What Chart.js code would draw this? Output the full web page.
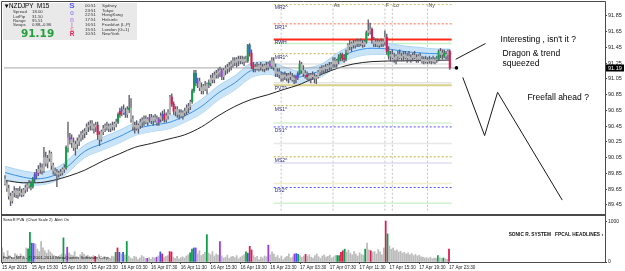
<!DOCTYPE html>
<html><head><meta charset="utf-8">
<script src="https://cdn.jsdelivr.net/npm/chart.js"></script>
<style>
html,body{margin:0;padding:0;background:#fff;width:625px;height:271px;overflow:hidden}
#a{position:absolute;left:0;top:0}
#b{position:absolute;left:0;top:215px}
</style></head><body>
<canvas id="a" width="625" height="215"></canvas>
<canvas id="b" width="625" height="56"></canvas>
<script>
// ---------------- DATA ----------------
const opens = [
89.78,89.72,89.66,89.56,89.50,89.60,89.63,89.58,89.62,89.60,
89.58,89.64,89.67,89.70,89.72,89.68,89.78,89.83,89.86,89.90,
89.92,89.88,90.05,89.98,90.04,90.10,89.95,89.88,89.86,89.84,
89.85,89.86,89.90,89.92,90.18,90.30,90.28,90.24,90.18,90.22,
90.26,90.30,90.34,90.36,90.38,90.44,90.46,90.48,90.42,90.44,
90.46,90.34,90.28,90.38,90.42,90.45,90.44,90.42,90.46,90.44,
90.48,90.50,90.60,90.64,90.66,90.62,90.60,90.66,90.68,90.54,
90.44,90.46,90.42,90.46,90.50,90.52,90.54,90.50,90.54,90.56,
90.52,90.56,90.54,90.50,90.54,90.58,90.60,90.54,90.58,90.62,
90.82,90.73,90.64,90.66,90.60,90.62,90.58,90.62,90.64,90.68,
90.70,90.76,90.90,91.12,91.00,91.02,90.94,90.90,90.96,90.92,
90.98,91.00,91.06,91.04,91.10,91.12,91.14,91.16,91.08,91.16,
91.18,91.20,91.22,91.24,91.28,91.26,91.30,91.28,91.30,91.27,
91.30,91.28,91.48,91.38,91.22,91.18,91.20,91.18,91.22,91.20,
91.18,91.22,91.20,91.24,91.22,91.28,91.20,91.12,91.14,91.10,
91.06,91.10,91.08,91.06,91.10,91.08,91.04,91.06,91.08,91.12,
91.24,91.16,91.12,91.10,91.08,91.06,91.10,91.08,91.06,91.08,
91.14,91.18,91.16,91.20,91.18,91.22,91.20,91.24,91.28,91.24,
91.28,91.32,91.36,91.31,91.30,91.38,91.48,91.46,91.50,91.48,
91.52,91.50,91.52,91.50,91.49,91.52,91.64,91.66,91.68,91.54,
91.50,91.52,91.48,91.52,91.50,91.52,91.58,91.40,91.34,91.36,
91.32,91.30,91.34,91.36,91.32,91.34,91.36,91.32,91.34,91.30,
91.32,91.35,91.32,91.30,91.34,91.30,91.28,91.30,91.27,91.29,
91.28,91.30,91.27,91.29,91.30,91.40,91.36,91.38,91.34,91.36,
91.40];
const highs = [
89.82,89.76,89.70,89.60,89.62,89.68,89.66,89.66,89.68,89.65,
89.66,89.70,89.72,89.76,89.75,89.80,89.86,89.90,89.95,89.98,
89.97,90.18,90.12,90.08,90.14,90.12,89.98,89.92,89.90,89.88,
89.90,89.92,89.96,90.20,90.50,90.36,90.34,90.30,90.26,90.30,
90.34,90.38,90.40,90.42,90.48,90.50,90.52,90.52,90.48,90.50,
90.50,90.38,90.40,90.46,90.48,90.50,90.48,90.48,90.50,90.50,
90.54,90.62,90.68,90.70,90.72,90.68,90.70,90.84,90.80,90.58,
90.50,90.52,90.48,90.54,90.56,90.58,90.58,90.56,90.60,90.60,
90.58,90.60,90.58,90.56,90.62,90.64,90.66,90.62,90.66,90.84,
90.86,90.76,90.70,90.70,90.66,90.66,90.64,90.68,90.72,90.74,
90.78,90.92,91.16,91.16,91.06,91.06,91.00,90.98,91.02,91.00,
91.04,91.10,91.12,91.14,91.16,91.18,91.20,91.18,91.18,91.22,
91.24,91.26,91.28,91.32,91.32,91.32,91.34,91.34,91.34,91.33,
91.34,91.49,91.50,91.42,91.26,91.24,91.26,91.24,91.26,91.24,
91.24,91.26,91.26,91.28,91.32,91.32,91.24,91.18,91.18,91.14,
91.12,91.14,91.12,91.12,91.14,91.12,91.10,91.10,91.14,91.28,
91.26,91.22,91.16,91.14,91.12,91.12,91.14,91.12,91.10,91.16,
91.20,91.22,91.22,91.24,91.24,91.26,91.26,91.32,91.32,91.30,
91.36,91.38,91.38,91.36,91.42,91.50,91.55,91.52,91.54,91.54,
91.56,91.55,91.56,91.54,91.54,91.66,91.80,91.76,91.70,91.58,
91.56,91.56,91.54,91.56,91.55,91.66,91.62,91.46,91.40,91.42,
91.38,91.36,91.40,91.42,91.38,91.40,91.40,91.38,91.40,91.36,
91.38,91.40,91.36,91.36,91.38,91.34,91.33,91.34,91.32,91.34,
91.32,91.34,91.32,91.34,91.42,91.44,91.42,91.42,91.40,91.42,
91.42];
const lows = [
89.70,89.62,89.52,89.44,89.47,89.55,89.54,89.53,89.56,89.55,
89.56,89.60,89.62,89.66,89.64,89.66,89.74,89.78,89.82,89.85,
89.84,89.86,89.94,89.92,90.00,89.90,89.84,89.82,89.68,89.80,
89.82,89.83,89.86,89.90,90.12,90.22,90.18,90.14,90.08,90.16,
90.20,90.26,90.28,90.30,90.34,90.38,90.40,90.40,90.36,90.38,
90.28,90.20,90.26,90.34,90.38,90.40,90.38,90.38,90.40,90.40,
90.44,90.48,90.56,90.58,90.60,90.56,90.56,90.62,90.50,90.40,
90.36,90.40,90.36,90.42,90.44,90.46,90.48,90.46,90.50,90.48,
90.46,90.50,90.46,90.46,90.50,90.52,90.50,90.50,90.54,90.60,
90.70,90.60,90.58,90.56,90.54,90.56,90.54,90.58,90.60,90.62,
90.66,90.74,90.88,90.96,90.94,90.90,90.86,90.86,90.90,90.86,
90.94,90.96,91.00,91.00,91.06,91.06,91.08,91.04,91.04,91.10,
91.12,91.14,91.16,91.20,91.22,91.20,91.22,91.24,91.24,91.22,
91.26,91.26,91.34,91.18,91.14,91.14,91.16,91.15,91.16,91.15,
91.14,91.16,91.16,91.20,91.18,91.16,91.08,91.08,91.06,91.02,
91.02,91.04,91.02,91.00,91.04,91.02,90.99,91.00,91.04,91.10,
91.12,91.08,91.06,91.04,91.02,91.00,91.04,91.00,90.99,91.06,
91.10,91.12,91.12,91.14,91.14,91.16,91.16,91.20,91.20,91.20,
91.24,91.28,91.28,91.26,91.28,91.36,91.42,91.40,91.44,91.44,
91.46,91.46,91.47,91.45,91.46,91.50,91.60,91.62,91.50,91.46,
91.46,91.46,91.45,91.46,91.46,91.48,91.36,91.30,91.28,91.30,
91.26,91.24,91.28,91.30,91.28,91.28,91.30,91.26,91.28,91.26,
91.28,91.30,91.26,91.26,91.28,91.25,91.24,91.25,91.24,91.25,
91.24,91.25,91.24,91.26,91.28,91.32,91.30,91.32,91.30,91.30,
91.17];
const closes = [
89.72,89.66,89.56,89.50,89.60,89.63,89.58,89.62,89.60,89.58,
89.64,89.67,89.70,89.72,89.68,89.78,89.83,89.86,89.90,89.92,
89.88,90.05,89.98,90.04,90.10,89.95,89.88,89.86,89.84,89.85,
89.86,89.90,89.92,90.18,90.30,90.28,90.24,90.18,90.22,90.26,
90.30,90.34,90.36,90.38,90.44,90.46,90.48,90.42,90.44,90.46,
90.34,90.28,90.38,90.42,90.45,90.44,90.42,90.46,90.44,90.48,
90.50,90.60,90.64,90.66,90.62,90.60,90.66,90.68,90.54,90.44,
90.46,90.42,90.46,90.50,90.52,90.54,90.50,90.54,90.56,90.52,
90.56,90.54,90.50,90.54,90.58,90.60,90.54,90.58,90.62,90.82,
90.73,90.64,90.66,90.60,90.62,90.58,90.62,90.64,90.68,90.70,
90.76,90.90,91.12,91.00,91.02,90.94,90.90,90.96,90.92,90.98,
91.00,91.06,91.04,91.10,91.12,91.14,91.16,91.08,91.16,91.18,
91.20,91.22,91.24,91.28,91.26,91.30,91.28,91.30,91.27,91.30,
91.28,91.48,91.38,91.22,91.18,91.20,91.18,91.22,91.20,91.18,
91.22,91.20,91.24,91.22,91.28,91.20,91.12,91.14,91.10,91.06,
91.10,91.08,91.06,91.10,91.08,91.04,91.06,91.08,91.12,91.24,
91.16,91.12,91.10,91.08,91.06,91.10,91.08,91.06,91.08,91.14,
91.18,91.16,91.20,91.18,91.22,91.20,91.24,91.28,91.24,91.28,
91.32,91.36,91.31,91.30,91.38,91.48,91.46,91.50,91.48,91.52,
91.50,91.52,91.50,91.49,91.52,91.64,91.66,91.68,91.54,91.50,
91.52,91.48,91.52,91.50,91.52,91.58,91.40,91.34,91.36,91.32,
91.30,91.34,91.36,91.32,91.34,91.36,91.32,91.34,91.30,91.32,
91.35,91.32,91.30,91.34,91.30,91.28,91.30,91.27,91.29,91.28,
91.30,91.27,91.29,91.30,91.40,91.36,91.38,91.34,91.36,91.40,
91.19];
const volumes = [
350,230,120,280,160,120,90,210,180,140,
200,150,120,350,325,740,470,460,440,320,
260,510,350,280,220,300,250,200,160,140,
120,160,200,600,200,370,230,180,160,260,
140,120,180,240,200,150,170,140,130,160,
140,120,180,100,80,140,60,120,90,150,
130,240,350,240,200,240,180,510,150,100,
80,140,120,60,100,160,130,90,90,110,
70,120,100,120,150,250,200,110,140,160,
260,250,120,90,140,70,110,130,100,150,
180,230,320,350,350,200,280,160,190,240,
680,220,180,260,150,200,170,510,150,100,
120,170,90,130,140,110,160,80,120,150,
180,250,220,390,300,160,110,140,60,120,
100,150,130,420,180,250,200,120,160,90,
150,60,110,140,200,100,130,200,210,190,
160,120,150,190,140,180,120,100,160,200,
130,90,150,180,120,140,170,100,130,160,
160,160,240,280,320,250,300,220,180,260,
200,150,230,190,170,320,470,300,280,240,
260,200,310,250,180,350,1020,700,400,320,
350,280,300,250,270,220,240,200,230,180,
210,160,190,150,170,130,120,100,110,90,
120,80,100,90,160,110,90,100,80,70,
320];
// PVA colour classes (bar indices)
const greenBars  = [14,15,33,61,67,101,102,110,131,159,180,181,184,195,207,234,237];
const redBars    = [50,62,86,90,91,133,134,163,182,183,198,206,240];
const blueBars   = [16,63,65,85,103,132,158];
const purpleBars = [17,35,78,83,104,117,143,157];

// Dragon (EMA band) and trend line, read at sample bars
const dragonBars = [0,10,17,26,33,43,53,62,70,79,89,97,106,115,124,133,142,151,158,162,171,180,188,198,207,215,224,234,240];
const dragonMid  = [89.86,89.80,89.78,89.82,89.92,90.13,90.23,90.32,90.41,90.46,90.50,90.58,90.70,90.87,91.00,91.16,91.19,91.12,91.07,91.10,91.16,91.31,91.40,91.44,91.43,91.40,91.38,91.37,91.37];
const dragonHigh = [89.94,89.88,89.86,89.90,90.00,90.21,90.31,90.40,90.49,90.54,90.58,90.66,90.79,90.96,91.09,91.25,91.27,91.20,91.15,91.18,91.24,91.39,91.48,91.52,91.50,91.47,91.45,91.43,91.43];
const dragonLow  = [89.78,89.72,89.70,89.74,89.84,90.05,90.15,90.24,90.33,90.38,90.42,90.50,90.61,90.78,90.91,91.07,91.11,91.04,90.99,91.02,91.08,91.23,91.32,91.36,91.36,91.33,91.31,91.31,91.31];
const trendBars  = [0,10,17,26,35,43,53,62,70,79,89,97,106,115,124,133,142,151,158,162,171,180,188,198,215,240];
const trendVals  = [89.76,89.73,89.73,89.76,89.82,89.89,90.01,90.10,90.18,90.23,90.29,90.34,90.44,90.58,90.70,90.79,90.85,90.92,90.97,91.01,91.11,91.19,91.24,91.27,91.28,91.29];

// Pivot levels
const levelNames  = ['MR2^','DR1^','RWH','MR1^','PVT^','MS1^','DS1^','MS2^','DS2^'];
const levelPrices = [91.995,91.75,91.55,91.37,90.97,90.71,90.44,90.06,89.67];
const faintLevels = [91.50,91.24,91.00,90.49,90.23,89.98,89.72,89.47];
const levelFromBar = 145, levelToBar = 241;
const sessionBars  = [149,177,205,209,228];
const sessionNames = ['','As','F','Lo','Ny'];

// Drawn objects (bar index, price)
const bidLineBars   = [-1, 243];
const dotBar        = 243.6;
const calloutBars   = [243.2, 259.3];
const calloutPrices = [91.30, 91.50];
const zigzagBars    = [247, 258.8, 265.8, 300.7];
const zigzagPrices  = [91.07, 90.33, 90.88, 89.51];
const noteTexts  = ["Interesting , isn't it ?", 'Dragon & trend', 'squeezed', 'Freefall ahead ?'];
const noteBars   = [267.4, 268.5, 268.5, 281.9];
const notePrices = [91.55, 91.37, 91.24, 90.81];

// Axes
const priceTicks = [89.45,89.65,89.85,90.05,90.25,90.45,90.65,90.85,91.05,91.25,91.45,91.65,91.85];
const volTicks = [0, 1000];
const timeTickBars = [0,16,32,48,64,80,96,112,128,144,160,176,192,208,224,240];
const timeLabels = ['15 Apr 2015','15 Apr 15:30','15 Apr 19:30','15 Apr 23:30','16 Apr 03:30','16 Apr 07:30','16 Apr 11:30','16 Apr 15:30','16 Apr 19:30','16 Apr 23:30','17 Apr 03:30','17 Apr 07:30','17 Apr 11:30','17 Apr 15:30','17 Apr 19:30','17 Apr 23:30'];

// Info panel
const symbolTitle = 'NZDJPY  M15';
const infoLabels = ['Spread','LotPip','Range','Swaps'];
const infoValues = ['18.00','31.50','95.51','0.88,-0.96'];
const sessionTimes  = ['00:51','23:51','22:51','17:51','16:51','15:51','10:51'];
const sessionCities = ['Sydney','Tokyo','HongKong','Helsinki','Frankfurt (L,P)','London (G+1)','NewYork'];

// ---------------- RENDER ----------------
const FF = '"Liberation Sans", Arial, "DejaVu Sans", sans-serif';
const xMin = -0.54, xMax = 323.76;
const yMin = 89.375, yMax = 91.9985;
const N = closes.length;
const bars = Array.from({length: N}, (_, i) => i);
const lastPrice = closes[N - 1];
const kind = i => greenBars.includes(i) ? 'g' : redBars.includes(i) ? 'r' : blueBars.includes(i) ? 'b' : purpleBars.includes(i) ? 'p' : 'n';
const bodyPal = {n:'#b4b4b4', g:'#10a04a', r:'#e3174f', b:'#3f5cf2', p:'#a33be6'};
const volPal  = {n:'#bcbcbc', g:'#0aa046', r:'#e3174f', b:'#3356f5', p:'#9c35ee'};

const lineDs = (xs, ys, o) => Object.assign({type:'line', data: xs.map((x, k) => ({x, y: ys[k]})), pointRadius:0, borderWidth:1, fill:false, tension:0}, o);

const levelColors = ['#b9ad3c','#ff6a3a','#ff2a1a','#bdb040','#d9d08a','#bdb040','#5050ee','#bdb040','#5050ee'];
const levelDash   = [[2,2],[2,2],[],[2,2],[],[2,2],[2,2],[2,2],[2,2]];
const levelWidth  = [1,1,2,1,2,1,1,1,1];
const faintColors = ['#c6f0c6','#e4e4e4','#e4e4e4','#d2f2d2','#e8e8e8','#dcdcf2','#f2eecc','#d2f2d2'];

const dsA = [];
faintLevels.forEach((p, k) => dsA.push(lineDs([levelFromBar, levelToBar], [p, p], {borderColor: faintColors[k], borderWidth: 1.5, order: 12})));
sessionBars.forEach(b => dsA.push(lineDs([b, b], [yMin, yMax], {borderColor:'#c2c2c2', borderDash:[2,2], order: 12})));
levelPrices.forEach((p, k) => dsA.push(lineDs([levelFromBar, levelToBar], [p, p], {borderColor: levelColors[k], borderDash: levelDash[k], borderWidth: levelWidth[k], order: 11})));
dsA.push(lineDs(dragonBars, dragonHigh, {borderColor:'#a9d3f2', backgroundColor:'rgba(198,227,248,0.95)', fill:'+1', cubicInterpolationMode:'monotone', order: 9}));
dsA.push(lineDs(dragonBars, dragonLow,  {borderColor:'#a9d3f2', cubicInterpolationMode:'monotone', order: 9}));
dsA.push(lineDs(dragonBars, dragonMid,  {borderColor:'#3a90e6', cubicInterpolationMode:'monotone', order: 8}));
dsA.push(lineDs(trendBars, trendVals,   {borderColor:'#222222', cubicInterpolationMode:'monotone', order: 7}));
dsA.push(lineDs(bidLineBars, [lastPrice, lastPrice], {borderColor:'#a8a8a8', order: 6}));
dsA.push({type:'bar', data: bars.map(i => ({x:i, y:[lows[i], highs[i]]})), backgroundColor:'#5c5c6a', barThickness:0.7, grouped:false, borderWidth:0, order: 4});
dsA.push({type:'bar', data: bars.map(i => ({x:i, y:[opens[i], closes[i]]})), backgroundColor: c => bodyPal[kind(c.dataIndex)], barThickness:1.4, minBarLength:1, grouped:false, borderWidth:0, order: 3});
dsA.push(lineDs(calloutBars, calloutPrices, {borderColor:'#1a1a1a', order: 1}));
dsA.push(lineDs(zigzagBars, zigzagPrices, {borderColor:'#1a1a1a', order: 1}));
dsA.push({type:'line', data:[{x: dotBar, y: lastPrice}], showLine:false, pointRadius:1.8, pointBackgroundColor:'#000', pointBorderWidth:0, order: 0});

const overlayA = {
  id: 'overlayA',
  afterDatasetsDraw(chart) {
    const {ctx, scales: {x, y}} = chart;
    ctx.save();
    ctx.textAlign = 'left';
    ctx.font = '5px ' + FF; ctx.fillStyle = '#2c2c7c'; ctx.textBaseline = 'top';
    levelNames.forEach((n, k) => ctx.fillText(n, x.getPixelForValue(levelFromBar) + 1, Math.max(y.getPixelForValue(levelPrices[k]) + 1, 3)));
    ctx.fillStyle = '#444';
    sessionNames.forEach((n, k) => { if (n) ctx.fillText(n, x.getPixelForValue(sessionBars[k]) + 1, 3); });
    ctx.font = '8.5px ' + FF; ctx.fillStyle = '#000'; ctx.textBaseline = 'middle';
    noteTexts.forEach((t, k) => ctx.fillText(t, x.getPixelForValue(noteBars[k]), y.getPixelForValue(notePrices[k])));
    ctx.restore();
  },
  afterDraw(chart) {
    const {ctx, scales: {y}} = chart;
    ctx.save();
    const yp = y.getPixelForValue(lastPrice);
    ctx.fillStyle = '#000'; ctx.fillRect(606, Math.round(yp) - 3.5, 18, 7);
    ctx.fillStyle = '#fff'; ctx.font = '5.5px ' + FF; ctx.textBaseline = 'middle'; ctx.textAlign = 'left';
    ctx.fillText(lastPrice.toFixed(2), 608, Math.round(yp));
    ctx.fillStyle = '#e9e9e9'; ctx.fillRect(3, 3, 134, 37);
    ctx.fillStyle = '#000'; ctx.font = '6.3px ' + FF; ctx.textBaseline = 'middle';
    ctx.fillText('\u25BC', 3.5, 6.5);
    ctx.fillText(symbolTitle, 9, 6.5);
    ctx.font = '4.3px ' + FF; ctx.fillStyle = '#333';
    infoLabels.forEach((t, k) => { ctx.fillText(t, 13, 12.3 + k * 4.3); ctx.fillText(infoValues[k], 32, 12.3 + k * 4.3); });
    ctx.font = 'bold 10.5px "DejaVu Sans", ' + FF; ctx.fillStyle = '#22a03a';
    ctx.fillText(lastPrice.toFixed(2), 21, 33.8);
    const sl = ['S','o','n','i','c','R'], sy = [6.2, 13.6, 19.8, 24.8, 29.2, 34], sc = ['#5a5aff','#a08ff2','#b88fe6','#cc8fd6','#ec8aa0','#f0205a'];
    ctx.textAlign = 'center';
    sl.forEach((c, k) => { ctx.font = (k === 0 ? 'bold 8px ' : 'bold 6.5px ') + FF; ctx.fillStyle = sc[k]; ctx.fillText(c, 72, sy[k]); });
    ctx.textAlign = 'left'; ctx.font = '4.4px ' + FF; ctx.fillStyle = '#333';
    sessionTimes.forEach((t, k) => { const yy = 5.8 + k * 4.7; ctx.fillText(t, 85, yy); ctx.fillText(sessionCities[k], 102, yy); });
    ctx.strokeStyle = '#4a4a4a'; ctx.lineWidth = 1;
    ctx.beginPath(); ctx.moveTo(1.5, 215); ctx.lineTo(1.5, 1.5); ctx.lineTo(605.5, 1.5); ctx.lineTo(605.5, 215); ctx.stroke();
    ctx.fillStyle = '#4a4a4a'; ctx.fillRect(1, 214, 605, 1);
    ctx.restore();
  }
};

new Chart(document.getElementById('a'), {
  type: 'bar',
  data: {datasets: dsA},
  options: {
    responsive: false, animation: false, devicePixelRatio: 1,
    layout: {padding: {left: 1, top: 2, right: 0, bottom: 1}},
    plugins: {legend: {display: false}, tooltip: {enabled: false}},
    scales: {
      x: {type: 'linear', min: xMin, max: xMax, display: false, offset: false, grid: {offset: false}},
      y: {type: 'linear', position: 'right', min: yMin, max: yMax, beginAtZero: false,
          afterFit(s) { s.width = 20; },
          afterBuildTicks(s) { s.ticks = priceTicks.map(v => ({value: v})); },
          ticks: {font: {size: 5.5, family: FF}, color: '#222', padding: 1, callback: v => Number(v).toFixed(2)},
          grid: {drawOnChartArea: false, drawTicks: true, tickLength: 2, color: '#444'},
          border: {display: false}}
    }
  },
  plugins: [overlayA]
});

const overlayB = {
  id: 'overlayB',
  afterDraw(chart) {
    const {ctx} = chart;
    ctx.save();
    ctx.textAlign = 'left'; ctx.textBaseline = 'middle'; ctx.fillStyle = '#111';
    ctx.font = '3.9px ' + FF;
    ctx.fillText('SonicR PVA  (Chart Scale 2)  Alert On', 3, 5);
    ctx.font = '4.4px ' + FF;
    ctx.fillText('FxPro MT4 - \u00A9 2001-2014 MetaQuotes Software Corp.', 3, 43);
    ctx.font = 'bold 4.8px ' + FF; ctx.textAlign = 'right';
    ctx.fillText('SONIC R. SYSTEM   FPCAL HEADLINES \u203A', 603, 20);
    ctx.strokeStyle = '#4a4a4a'; ctx.lineWidth = 1;
    ctx.fillStyle = '#4a4a4a'; ctx.fillRect(1, 0, 605, 1);
    ctx.beginPath(); ctx.moveTo(1.5, 0); ctx.lineTo(1.5, 47.5); ctx.lineTo(605.5, 47.5); ctx.lineTo(605.5, 0); ctx.stroke();
    ctx.restore();
  }
};

new Chart(document.getElementById('b'), {
  type: 'bar',
  data: {datasets: [{
    data: bars.map(i => ({x: i, y: volumes[i]})),
    backgroundColor: c => volPal[kind(c.dataIndex)],
    barThickness: 1.1, grouped: false, borderWidth: 0
  }]},
  options: {
    responsive: false, animation: false, devicePixelRatio: 1,
    layout: {padding: {left: 1, top: 1, right: 0, bottom: 0}},
    plugins: {legend: {display: false}, tooltip: {enabled: false}},
    scales: {
      x: {type: 'linear', position: 'bottom', min: xMin, max: xMax, offset: false,
          afterFit(s) { s.height = 9; },
          afterBuildTicks(s) { s.ticks = timeTickBars.map(v => ({value: v})); },
          ticks: {autoSkip: false, maxRotation: 0, minRotation: 0, align: 'start', padding: 1,
                  font: {size: 4.6, family: FF}, color: '#222', callback: (v, i) => timeLabels[i]},
          grid: {drawOnChartArea: false, drawTicks: true, tickLength: 2, color: '#444', offset: false},
          border: {display: false}},
      y: {type: 'linear', position: 'right', min: 0, max: 1070, beginAtZero: true,
          afterFit(s) { s.width = 20; },
          afterBuildTicks(s) { s.ticks = volTicks.map(v => ({value: v})); },
          ticks: {font: {size: 5, family: FF}, color: '#222', padding: 1, callback: v => String(v)},
          grid: {drawOnChartArea: false, drawTicks: true, tickLength: 2, color: '#444'},
          border: {display: false}}
    }
  },
  plugins: [overlayB]
});
</script>
</body></html>
